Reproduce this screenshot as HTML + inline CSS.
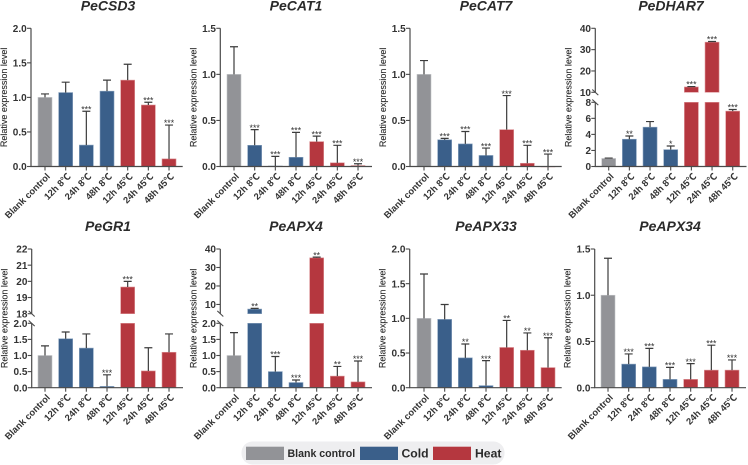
<!DOCTYPE html>
<html lang="en">
<head>
<meta charset="utf-8">
<title>Relative expression levels</title>
<style>
html,body{margin:0;padding:0;background:#fff;}
svg{display:block;}
text{font-family:"Liberation Sans","Noto Sans CJK SC",sans-serif;}
</style>
</head>
<body>
<svg id="chart" width="748" height="465" viewBox="0 0 748 465" xmlns="http://www.w3.org/2000/svg">
  <g id="panels" style="filter:blur(0.3px)"></g>
  <g style="filter:blur(0.25px)">
    <rect x="241.5" y="441.5" width="263" height="23" rx="11" fill="#eeeef0"/>
    <rect x="246" y="446.7" width="38" height="13.3" fill="#929397"/>
    <text x="287.5" y="457" font-size="10.6" font-weight="700" fill="#2b2b2b">Blank control</text>
    <rect x="360" y="446.7" width="38" height="13.3" fill="#3a5f8a"/>
    <text x="401.5" y="457.5" font-size="12.2" font-weight="700" fill="#2b2b2b">Cold</text>
    <rect x="433" y="446.7" width="38" height="13.3" fill="#b5373f"/>
    <text x="475" y="457.5" font-size="12.2" font-weight="700" fill="#2b2b2b">Heat</text>
  </g>
</svg>
<script>
const categories = ['Blank control','12h 8℃','24h 8℃','48h 8℃','12h 45℃','24h 45℃','48h 45℃'];

const csd3Values = [1,1.07,0.31,1.09,1.25,0.89,0.11];
const csd3ErrorTops = [1.05,1.22,0.8,1.25,1.48,0.93,0.6];
const csd3Sig = ['','','***','','','***','***'];
const csd3Ticks = ['0.0','0.5','1.0','1.5','2.0'];

const cat1Values = [1,0.23,0.005,0.1,0.27,0.04,0.01];
const cat1ErrorTops = [1.3,0.4,0.11,0.37,0.33,0.23,0.03];
const cat1Sig = ['','***','***','***','***','***','***'];
const cat1Ticks = ['0.0','0.5','1.0','1.5'];

const cat7Values = [1,0.29,0.245,0.12,0.4,0.035,0];
const cat7ErrorTops = [1.15,0.305,0.38,0.2,0.77,0.23,0.135];
const cat7Sig = ['','***','***','***','***','***','***'];
const cat7Ticks = ['0.0','0.5','1.0','1.5'];

const dhar7Values = [1,3.4,4.9,2.1,12.5,33.5,6.9];
const dhar7ErrorTops = [1.05,3.8,5.6,2.55,12.7,33.8,7.1];
const dhar7Sig = ['','**','','*','***','***','***'];
const dhar7LowerTicks = ['0','2','4','6','8'];
const dhar7UpperTicks = ['10','20','30','40'];

const gr1Values = [1,1.52,1.23,0.04,19.65,0.52,1.1];
const gr1ErrorTops = [1.3,1.73,1.67,0.4,20,1.24,1.67];
const gr1Sig = ['','','','***','***','',''];
const gr1LowerTicks = ['0.0','0.5','1.0','1.5','2.0'];
const gr1UpperTicks = ['18','19','20','21','22'];

const apx4Values = [1,7.5,0.5,0.16,35.2,0.36,0.18];
const apx4ErrorTops = [1.71,7.9,0.97,0.24,35.6,0.66,0.83];
const apx4Sig = ['','**','***','***','**','**','***'];
const apx4LowerTicks = ['0.0','0.5','1.0','1.5','2.0'];
const apx4UpperTicks = ['10','20','30','40'];

const apx33Values = [1,0.985,0.43,0.03,0.58,0.54,0.29];
const apx33ErrorTops = [1.64,1.2,0.63,0.39,0.97,0.79,0.72];
const apx33Sig = ['','','**','***','**','**','***'];
const apx33Ticks = ['0.0','0.5','1.0','1.5','2.0'];

const apx34Values = [1,0.255,0.225,0.09,0.09,0.19,0.19];
const apx34ErrorTops = [1.4,0.365,0.425,0.22,0.26,0.46,0.3];
const apx34Sig = ['','***','***','***','***','***','***'];
const apx34Ticks = ['0.0','0.5','1.0','1.5'];

const NS = 'http://www.w3.org/2000/svg';
const root = document.getElementById('panels');
const fills = ['#929397','#3a5f8a','#3a5f8a','#3a5f8a','#b5373f','#b5373f','#b5373f'];
const edges = ['#c4c5c8','#86a0bd','#86a0bd','#86a0bd','#dc9195','#dc9195','#dc9195'];
const AXIS = '#4a4a4a';
const SPACING = 20.67;
const BAR_W = 14;

function make(parent, tag, attrs, text) {
  const el = document.createElementNS(NS, tag);
  for (const k in attrs) el.setAttribute(k, attrs[k]);
  if (text !== undefined) el.textContent = text;
  parent.appendChild(el);
  return el;
}

function drawPanel(p) {
  const g = make(root, 'g', {});
  
  

  // Axis functions: one linear scale, or two stacked linear scales when the axis is broken.
  const lowMax = p.lowerMax;
  const lowTop = p.upperMin === undefined ? p.top : p.lowerTop;
  const yLow = v => p.base - (v / lowMax) * (p.base - lowTop);
  const yUp = v => p.upperBottom - (v - p.upperMin) / (p.upperMax - p.upperMin) * (p.upperBottom - p.top);
  const broken = p.upperMin !== undefined;
  const y = v => (broken && v > lowMax) ? (v >= p.upperMin ? yUp(v) : lowTop) : yLow(v);
  const x = i => p.x0 + i * SPACING;

  const title = make(g, 'text', {x: p.titleX, y: p.titleY, 'text-anchor': 'middle', 'font-size': 14, 'font-weight': 700, 'font-style': 'italic', fill: '#2b2b2b'}, p.title);
  
  

  const yc = (p.top + p.base) / 2;
  const yTitle = make(g, 'text', {x: 0, y: 0, transform: 'translate(' + (p.axisX - 24) + ' ' + yc + ') rotate(-90)', 'text-anchor': 'middle', 'font-size': 9, fill: '#2b2b2b', stroke: '#2b2b2b', 'stroke-width': 0.12}, 'Relative expression level');
  
  

  // bars
  p.values.forEach((v, i) => {
    const parts = [];
    if (broken && v > lowMax) {
      parts.push([yLow(lowMax), p.base]);
      if (v > p.upperMin) parts.push([yUp(v), p.upperBottom]);
    } else {
      parts.push([yLow(v), p.base]);
    }
    parts.forEach(part => {
      const bar = make(g, 'rect', {x: x(i) - BAR_W / 2, y: part[0], width: BAR_W, height: Math.max(part[1] - part[0], 0.4), fill: fills[i], stroke: edges[i], 'stroke-width': 0.6});
      
      
    });
    const top = y(p.errorTops[i]);
    const err = make(g, 'path', {d: 'M' + x(i) + ' ' + y(v) + 'V' + top + 'M' + (x(i) - 4) + ' ' + top + 'H' + (x(i) + 4), stroke: '#3c3c3c', 'stroke-width': 1.2, fill: 'none'});
    
    
    if (p.sig[i]) {
      const s = make(g, 'text', {x: x(i), y: top + 1.2, 'text-anchor': 'middle', 'font-size': 8.8, fill: '#333'}, p.sig[i]);
      
      
    }
    const tick = make(g, 'line', {x1: x(i), x2: x(i), y1: p.base, y2: p.base + 4, stroke: AXIS, 'stroke-width': 1.1});
    
    
    const lx = x(i) + 5.6, ly = p.base + 10.5;
    const lab = make(g, 'text', {x: 0, y: 0, transform: 'translate(' + lx + ' ' + ly + ') rotate(-45)', 'text-anchor': 'end', 'font-size': 9.3, 'font-weight': 700, fill: '#333'}, categories[i]);
    
    
  });

  // axes
  const xAxis = make(g, 'line', {x1: p.axisX - 0.6, x2: p.axisEnd, y1: p.base, y2: p.base, stroke: AXIS, 'stroke-width': 1.2});
  
  
  const d = broken
    ? 'M' + p.axisX + ' ' + p.base + 'V' + lowTop + 'M' + p.axisX + ' ' + p.upperBottom + 'V' + p.top
    : 'M' + p.axisX + ' ' + p.base + 'V' + p.top;
  const yAxis = make(g, 'path', {d: d, stroke: AXIS, 'stroke-width': 1.2, fill: 'none'});
  
  

  const drawTicks = (labels, scale) => labels.forEach(t => {
    const ty = scale(parseFloat(t));
    const tk = make(g, 'line', {x1: p.axisX - 4, x2: p.axisX, y1: ty, y2: ty, stroke: AXIS, 'stroke-width': 1.1});
    
    
    const tl = make(g, 'text', {x: p.axisX - 4.3, y: ty + 3.6, 'text-anchor': 'end', 'font-size': 10, 'font-weight': 700, fill: '#333'}, t);
    
    
  });
  drawTicks(p.lowerTicks, yLow);
  if (broken) {
    drawTicks(p.upperTicks, yUp);
    [p.upperBottom, lowTop].forEach(by => {
      const sl = make(g, 'line', {x1: p.axisX - 3, x2: p.axisX + 3, y1: by - 2.8, y2: by + 2.8, stroke: AXIS, 'stroke-width': 1.1});
      
      
    });
  }
}

const T = 28.3, B = 166.5, T2 = 249, B2 = 387.7;

drawPanel({title:'PeCSD3', titleX:108, titleY:10.7, axisX:31, axisEnd:182.7, x0:45, top:T, base:B, lowerMax:2, values:csd3Values, errorTops:csd3ErrorTops, sig:csd3Sig, lowerTicks:csd3Ticks});
drawPanel({title:'PeCAT1', titleX:296, titleY:10.7, axisX:220.3, axisEnd:372, x0:234, top:T, base:B, lowerMax:1.5, values:cat1Values, errorTops:cat1ErrorTops, sig:cat1Sig, lowerTicks:cat1Ticks});
drawPanel({title:'PeCAT7', titleX:486, titleY:10.7, axisX:410, axisEnd:561.7, x0:424, top:T, base:B, lowerMax:1.5, values:cat7Values, errorTops:cat7ErrorTops, sig:cat7Sig, lowerTicks:cat7Ticks});
drawPanel({title:'PeDHAR7', titleX:671, titleY:10.7, axisX:595.3, axisEnd:746.5, x0:608.7, top:T, base:B, lowerMax:8, lowerTop:102.3, upperMin:10, upperMax:40, upperBottom:92.3, values:dhar7Values, errorTops:dhar7ErrorTops, sig:dhar7Sig, lowerTicks:dhar7LowerTicks, upperTicks:dhar7UpperTicks});
drawPanel({title:'PeGR1', titleX:108, titleY:231, axisX:31.7, axisEnd:183, x0:45, top:T2, base:B2, lowerMax:2, lowerTop:323.3, upperMin:18, upperMax:22, upperBottom:313.7, values:gr1Values, errorTops:gr1ErrorTops, sig:gr1Sig, lowerTicks:gr1LowerTicks, upperTicks:gr1UpperTicks});
drawPanel({title:'PeAPX4', titleX:296, titleY:231, axisX:220.3, axisEnd:372, x0:234, top:T2, base:B2, lowerMax:2, lowerTop:323.3, upperMin:5, upperMax:40, upperBottom:313.7, values:apx4Values, errorTops:apx4ErrorTops, sig:apx4Sig, lowerTicks:apx4LowerTicks, upperTicks:apx4UpperTicks});
drawPanel({title:'PeAPX33', titleX:486, titleY:231, axisX:409.7, axisEnd:561.7, x0:424, top:T2, base:B2, lowerMax:2, values:apx33Values, errorTops:apx33ErrorTops, sig:apx33Sig, lowerTicks:apx33Ticks});
drawPanel({title:'PeAPX34', titleX:670, titleY:231, axisX:594.7, axisEnd:746, x0:608, top:T2, base:B2, lowerMax:1.5, values:apx34Values, errorTops:apx34ErrorTops, sig:apx34Sig, lowerTicks:apx34Ticks});
</script>
</body>
</html>
